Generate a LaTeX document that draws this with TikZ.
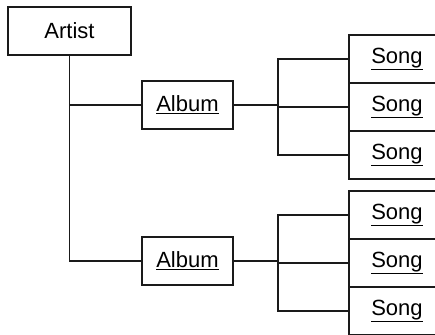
\documentclass[tikz,border=0pt]{standalone}
\usepackage{fontspec}
\setmainfont{Liberation Sans}
\usetikzlibrary{positioning}
\definecolor{ink}{HTML}{1A1A1A}

\begin{document}
\begin{tikzpicture}[
  x=1pt,y=-1pt,
  box/.style={draw=ink,line width=1.2pt,fill=white,minimum width=91pt,minimum height=48pt,inner sep=0pt,align=center,font=\fontsize{22}{26}\selectfont},
  artistbox/.style={box,minimum width=123pt},
  songbox/.style={box,minimum width=96pt},
  link/.style={draw=ink,line width=1.2pt}
]
\useasboundingbox (0,0) rectangle (435,334);
\clip (0,0) rectangle (435,334);
\node[artistbox] (ar) at (69.5,31) {Artist};
\node[box] (al1) at (187.5,105) {\underline{Album}};
\node[box] (al2) at (187.5,261) {\underline{Album}};
\node[songbox] (s11) at (397,59) {\underline{Song}};
\node[songbox] (s12) at (397,107) {\underline{Song}};
\node[songbox] (s13) at (397,155) {\underline{Song}};
\node[songbox] (s21) at (397,215) {\underline{Song}};
\node[songbox] (s22) at (397,263) {\underline{Song}};
\node[songbox] (s23) at (397,311) {\underline{Song}};
\coordinate (b1) at (278,105);
\coordinate (b2) at (278,261);
% artist to albums
\foreach \a in {al1,al2} \draw[link] (ar.south) |- (\a.west);
% albums to songs
\foreach \a/\b in {al1/b1,al2/b2} \draw[link] (\a.east) -- (\b);
\foreach \b/\s in {b1/s11,b1/s12,b1/s13,b2/s21,b2/s22,b2/s23} \draw[link] (\b) |- (\s.west);
\end{tikzpicture}
\end{document}
